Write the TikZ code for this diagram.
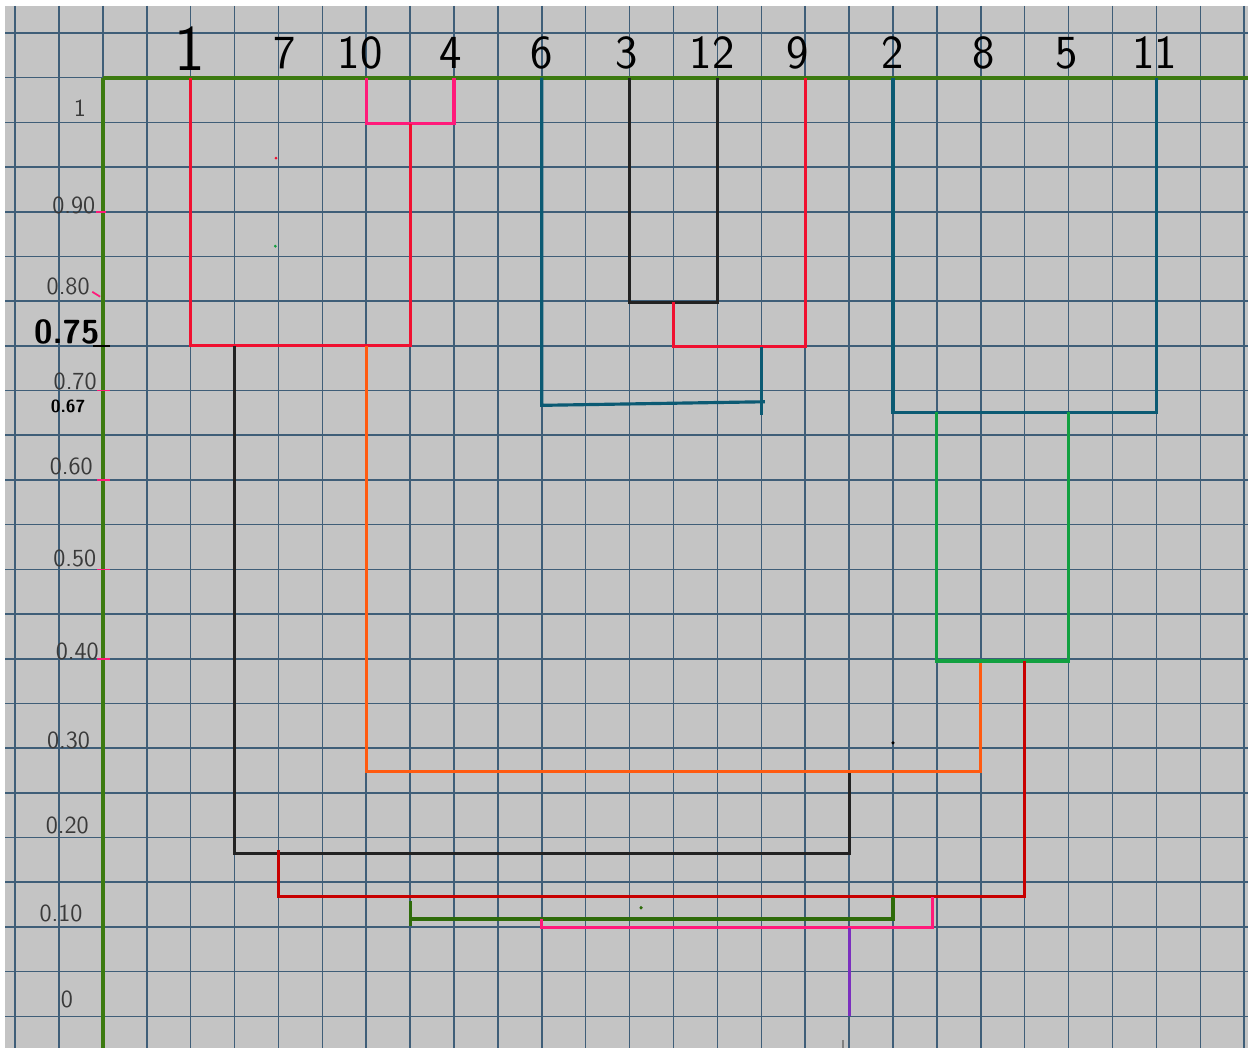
\documentclass[tikz,border=0pt]{standalone}
\usepackage{tikz}

\definecolor{paper}{HTML}{C4C4C4}
\definecolor{gridblue}{HTML}{3F5E78}
\definecolor{axisgreen}{HTML}{3C7A10}
\definecolor{tealc}{HTML}{0B5A73}
\definecolor{greenc}{HTML}{12A040}
\definecolor{redc}{HTML}{F01030}
\definecolor{pinkc}{HTML}{FF1A7A}
\definecolor{orangec}{HTML}{FF5A10}
\definecolor{darkredc}{HTML}{C80000}
\definecolor{olivec}{HTML}{2E6B0A}
\definecolor{purplec}{HTML}{7B2FBF}
\definecolor{inkc}{HTML}{222222}
\definecolor{pencil}{HTML}{3A3A3A}

\tikzset{
    gridline/.style={gridblue, line width=0.9pt},
    axisline/.style={axisgreen, line width=2.3pt},
    branch/.style={line width=1.8pt},
    leaf/.style={font=\sffamily\fontsize{27}{27}\selectfont, anchor=base, inner sep=0pt},
    level/.style={font=\sffamily\fontsize{14}{14}\selectfont, text=pencil, inner sep=0pt},
    tickmark/.style={pinkc, line width=1pt},
}

\begin{document}
\begin{tikzpicture}[x={(0.878cm,0)}, y={(0,-0.894cm)}]
    \useasboundingbox (-2.342,-1.738) rectangle (26.087,21.797);
    \fill[white] (-2.342,-1.738) rectangle (26.087,21.797);
    \fill[paper] (-2.228,-1.604) rectangle (26.087,21.707);
    % This draws the squared paper.
        \foreach \k in {-2,...,26}
            \draw[gridline] (\k,-1.604) -- (\k,21.707);
        \foreach \j in {-1,...,21}
            \draw[gridline] (-2.228,\j) -- (26.087,\j);
    \draw[axisline] (0,0) -- (26.087,0);
    \draw[axisline] (0,0) -- (0,21.707);

    % Below nodes are the leaves.
        \node[leaf, font=\sffamily\fontsize{37}{37}\selectfont] (l1) at (1.97,-0.17) {1};
        \node[leaf] (l7) at (4.15,-0.2) {7};
        \node[leaf] (l10) at (5.86,-0.2) {10};
        \node[leaf] (l4) at (7.93,-0.2) {4};
        \node[leaf] (l6) at (10,-0.2) {6};
        \node[leaf] (l3) at (11.94,-0.2) {3};
        \node[leaf] (l12) at (13.88,-0.2) {12};
        \node[leaf] (l9) at (15.83,-0.2) {9};
        \node[leaf] (l2) at (18,-0.2) {2};
        \node[leaf] (l8) at (20.07,-0.2) {8};
        \node[leaf] (l5) at (21.96,-0.2) {5};
        \node[leaf] (l11) at (23.96,-0.2) {11};

    % Below nodes are the levels.
        \node[level] (v100) at (-0.52,0.68) {1};
        \node[level] (v90) at (-0.66,2.85) {0.90};
        \node[level] (v80) at (-0.79,4.68) {0.80};
        \node[level, text=black, font=\sffamily\bfseries\fontsize{19}{19}\selectfont] (v75) at (-0.82,5.68) {0.75};
        \node[level] (v70) at (-0.63,6.8) {0.70};
        \node[level, text=black, font=\sffamily\bfseries\fontsize{10}{10}\selectfont] (v67) at (-0.79,7.36) {0.67};
        \node[level] (v60) at (-0.72,8.7) {0.60};
        \node[level] (v50) at (-0.64,10.75) {0.50};
        \node[level] (v40) at (-0.58,12.84) {0.40};
        \node[level] (v30) at (-0.78,14.82) {0.30};
        \node[level] (v20) at (-0.81,16.72) {0.20};
        \node[level] (v10) at (-0.95,18.69) {0.10};
        \node[level] (v0) at (-0.82,20.63) {0};
    % These are the small marks on the axis.
        \draw[tickmark] (-0.15,3) -- (0.08,3);
        \draw[tickmark] (-0.24,4.79) -- (-0.06,4.9);
        \draw[black, line width=1.2pt] (-0.22,6) -- (0.17,6);
        \foreach \j in {7,9,11,13}
            \draw[tickmark] (-0.13,\j) -- (0.17,\j);

    % Points where the branches start and meet.
        \coordinate (p1) at (2,0);
        \coordinate (p10) at (6,0);
        \coordinate (p4) at (8,0);
        \coordinate (p6) at (10,0);
        \coordinate (p3) at (12,0);
        \coordinate (p12) at (14,0);
        \coordinate (p9) at (16,0);
        \coordinate (p2) at (18,0);
        \coordinate (p11) at (24,0);
        \coordinate (m104) at (7,1.03);
        \coordinate (r1) at (7,6);
        \coordinate (a1) at (3,6);
        \coordinate (b1) at (3,17.35);
        \coordinate (a2) at (17,15.52);
        \coordinate (o1) at (6,6);
        \coordinate (o2) at (6,15.52);
        \coordinate (c312) at (13,5.02);
        \coordinate (m39) at (15,6.02);
        \coordinate (t6) at (15.08,7.25);
        \coordinate (g1) at (19,7.49);
        \coordinate (g2) at (22,7.49);
        \coordinate (g3) at (20,13.05);
        \coordinate (g4) at (21,13.05);
        \coordinate (d1) at (21,18.32);
        \coordinate (d2) at (4,17.28);
        \coordinate (e1) at (18,18.32);
        \coordinate (e2) at (7,18.82);
        \coordinate (f1) at (18.9,18.32);
        \coordinate (f2) at (10,18.82);
        \coordinate (f3) at (17,19.02);
        \coordinate (root) at (17,21);

    % The branches.
        \draw[branch, pinkc] (p10) |- (m104) -| (p4);
        \draw[branch, redc] (p1) |- (r1) -- (m104);
        \draw[branch, inkc] (a1) -- (b1) -| (a2);
        \draw[branch, orangec] (o1) -- (o2) -| (g3);
        \draw[branch, inkc] (p3) |- (c312) -| (p12);
        \draw[branch, redc] (c312) |- (m39) -| (p9);
        \draw[branch, tealc] (p6) -- (10,7.33) -- (t6);
        \draw[branch, tealc] (m39) -- (15,7.55);
        \draw[branch, tealc] (p2) |- (g1) -- (g2) -| (p11);
        \draw[branch, greenc] (g1) |- (g3) -| (g2);
        \draw[branch, darkredc] (g4) -- (d1) -| (d2);
        \draw[branch, olivec] (e1) |- (e2);
        \draw[branch, olivec] (7,18.42) -- (7,18.98);
        \draw[branch, pinkc] (f2) |- (f3) -| (f1);
        \draw[branch, purplec] (f3) -- (root);

    % Stray marks on the sheet.
        \fill[redc] (3.945,1.8) circle (0.035);
        \fill[greenc] (3.93,3.77) circle (0.035);
        \fill[black] (18,14.88) circle (0.04);
        \fill[olivec] (12.26,18.57) circle (0.04);
        \draw[gray, line width=0.8pt] (16.86,21.53) -- (16.86,21.707);
\end{tikzpicture}
\end{document}
